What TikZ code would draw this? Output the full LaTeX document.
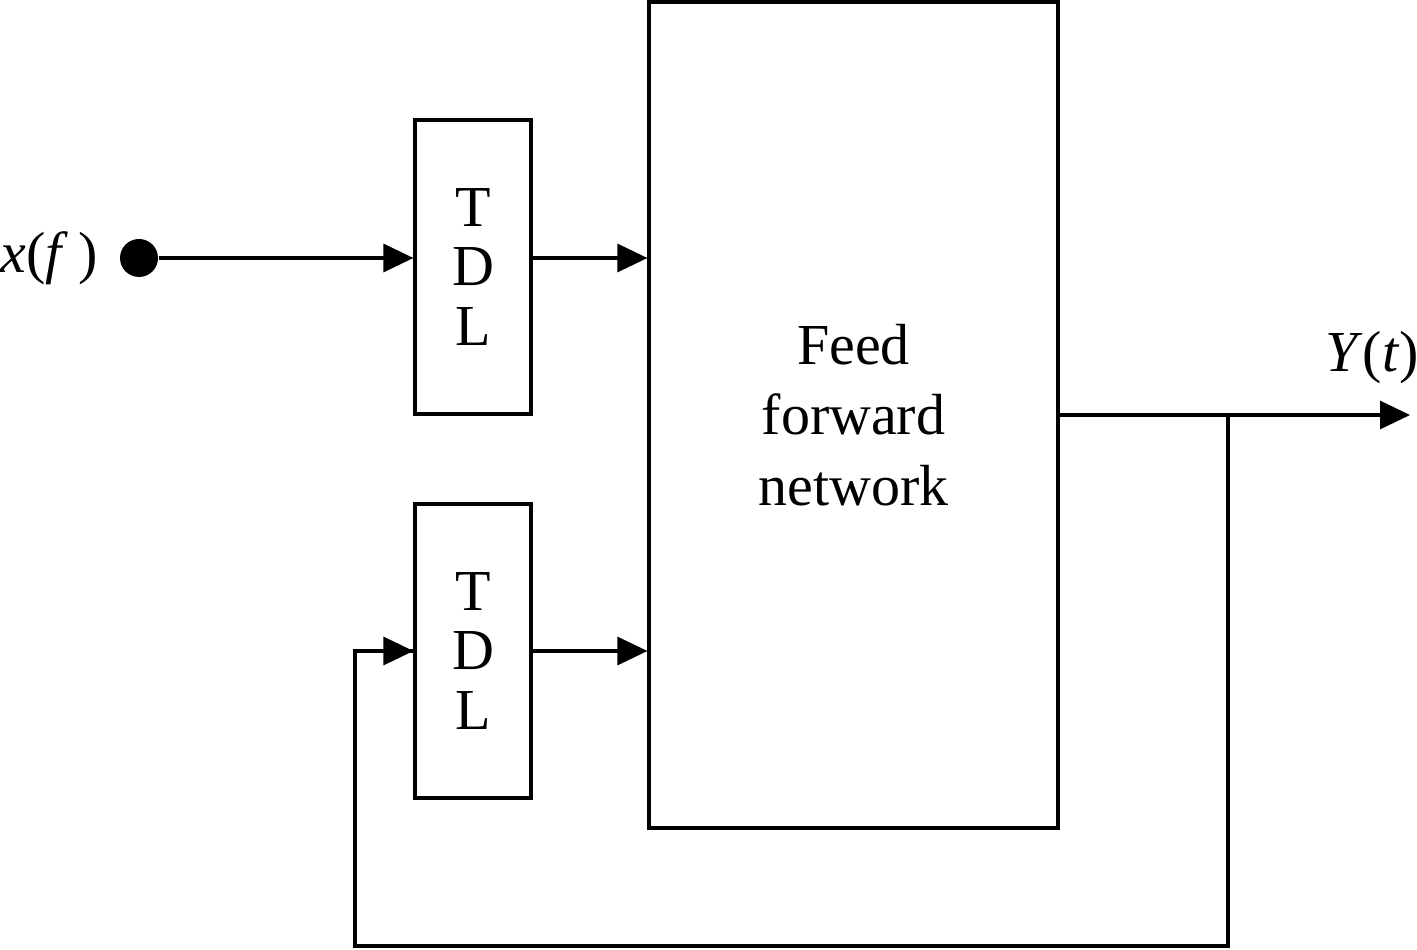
\documentclass[tikz,border=0pt]{standalone}
\usepackage{fontspec}
\setmainfont{Liberation Serif}
\usetikzlibrary{arrows.meta}
\tikzset{
  blk/.style={draw,line width=0.9pt,inner sep=0pt,align=center},
  tdl/.style={blk,minimum width=1.16cm,minimum height=2.94cm,font=\fontsize{16.5}{17}\selectfont},
  sig/.style={line width=0.9pt,-{Triangle[length=0.3cm,width=0.28cm]}},
  wire/.style={line width=0.9pt},
}

\begin{document}
\begin{tikzpicture}
  \useasboundingbox (0,0) rectangle (14.17,9.49);

  %blocks
  \node[tdl] (tdlx) at (4.73,6.82) {T\\D\\L};
  \node[tdl] (tdly) at (4.73,2.98) {T\\D\\L};
  \node[blk,minimum width=4.09cm,minimum height=8.26cm,font=\fontsize{16.5}{20}\selectfont] (ffn) at (8.535,5.34) {Feed\\forward\\network};

  %input
  \node[circle,fill,inner sep=0pt,minimum size=0.38cm] (src) at (1.39,6.91) {};
  \node[font=\fontsize{16.5}{19}\selectfont] (xin) at (0.49,6.91) {\textit{x}(\textit{f}\,)};
  \draw[sig] (src) -- (src -| tdlx.west);
  \draw[sig] (tdlx.east |- src) -- (ffn.west |- src);
  \draw[sig] (tdly.east) -- (ffn.west |- tdly.east);

  %output and feedback
  \coordinate (yend) at (14.10,5.34);
  \coordinate (tap) at (12.28,5.34);
  \coordinate (low) at (3.55,0.03);
  \node[font=\fontsize{16.5}{19}\selectfont] (yout) at (13.72,5.91) {\textit{Y}(\textit{t})};
  \draw[sig] (ffn.east) -- (yend);
  \draw[wire] (tap) |- (low) |- (tdly.west);
  \draw[sig] (low |- tdly.west) -- (tdly.west);
\end{tikzpicture}
\end{document}
